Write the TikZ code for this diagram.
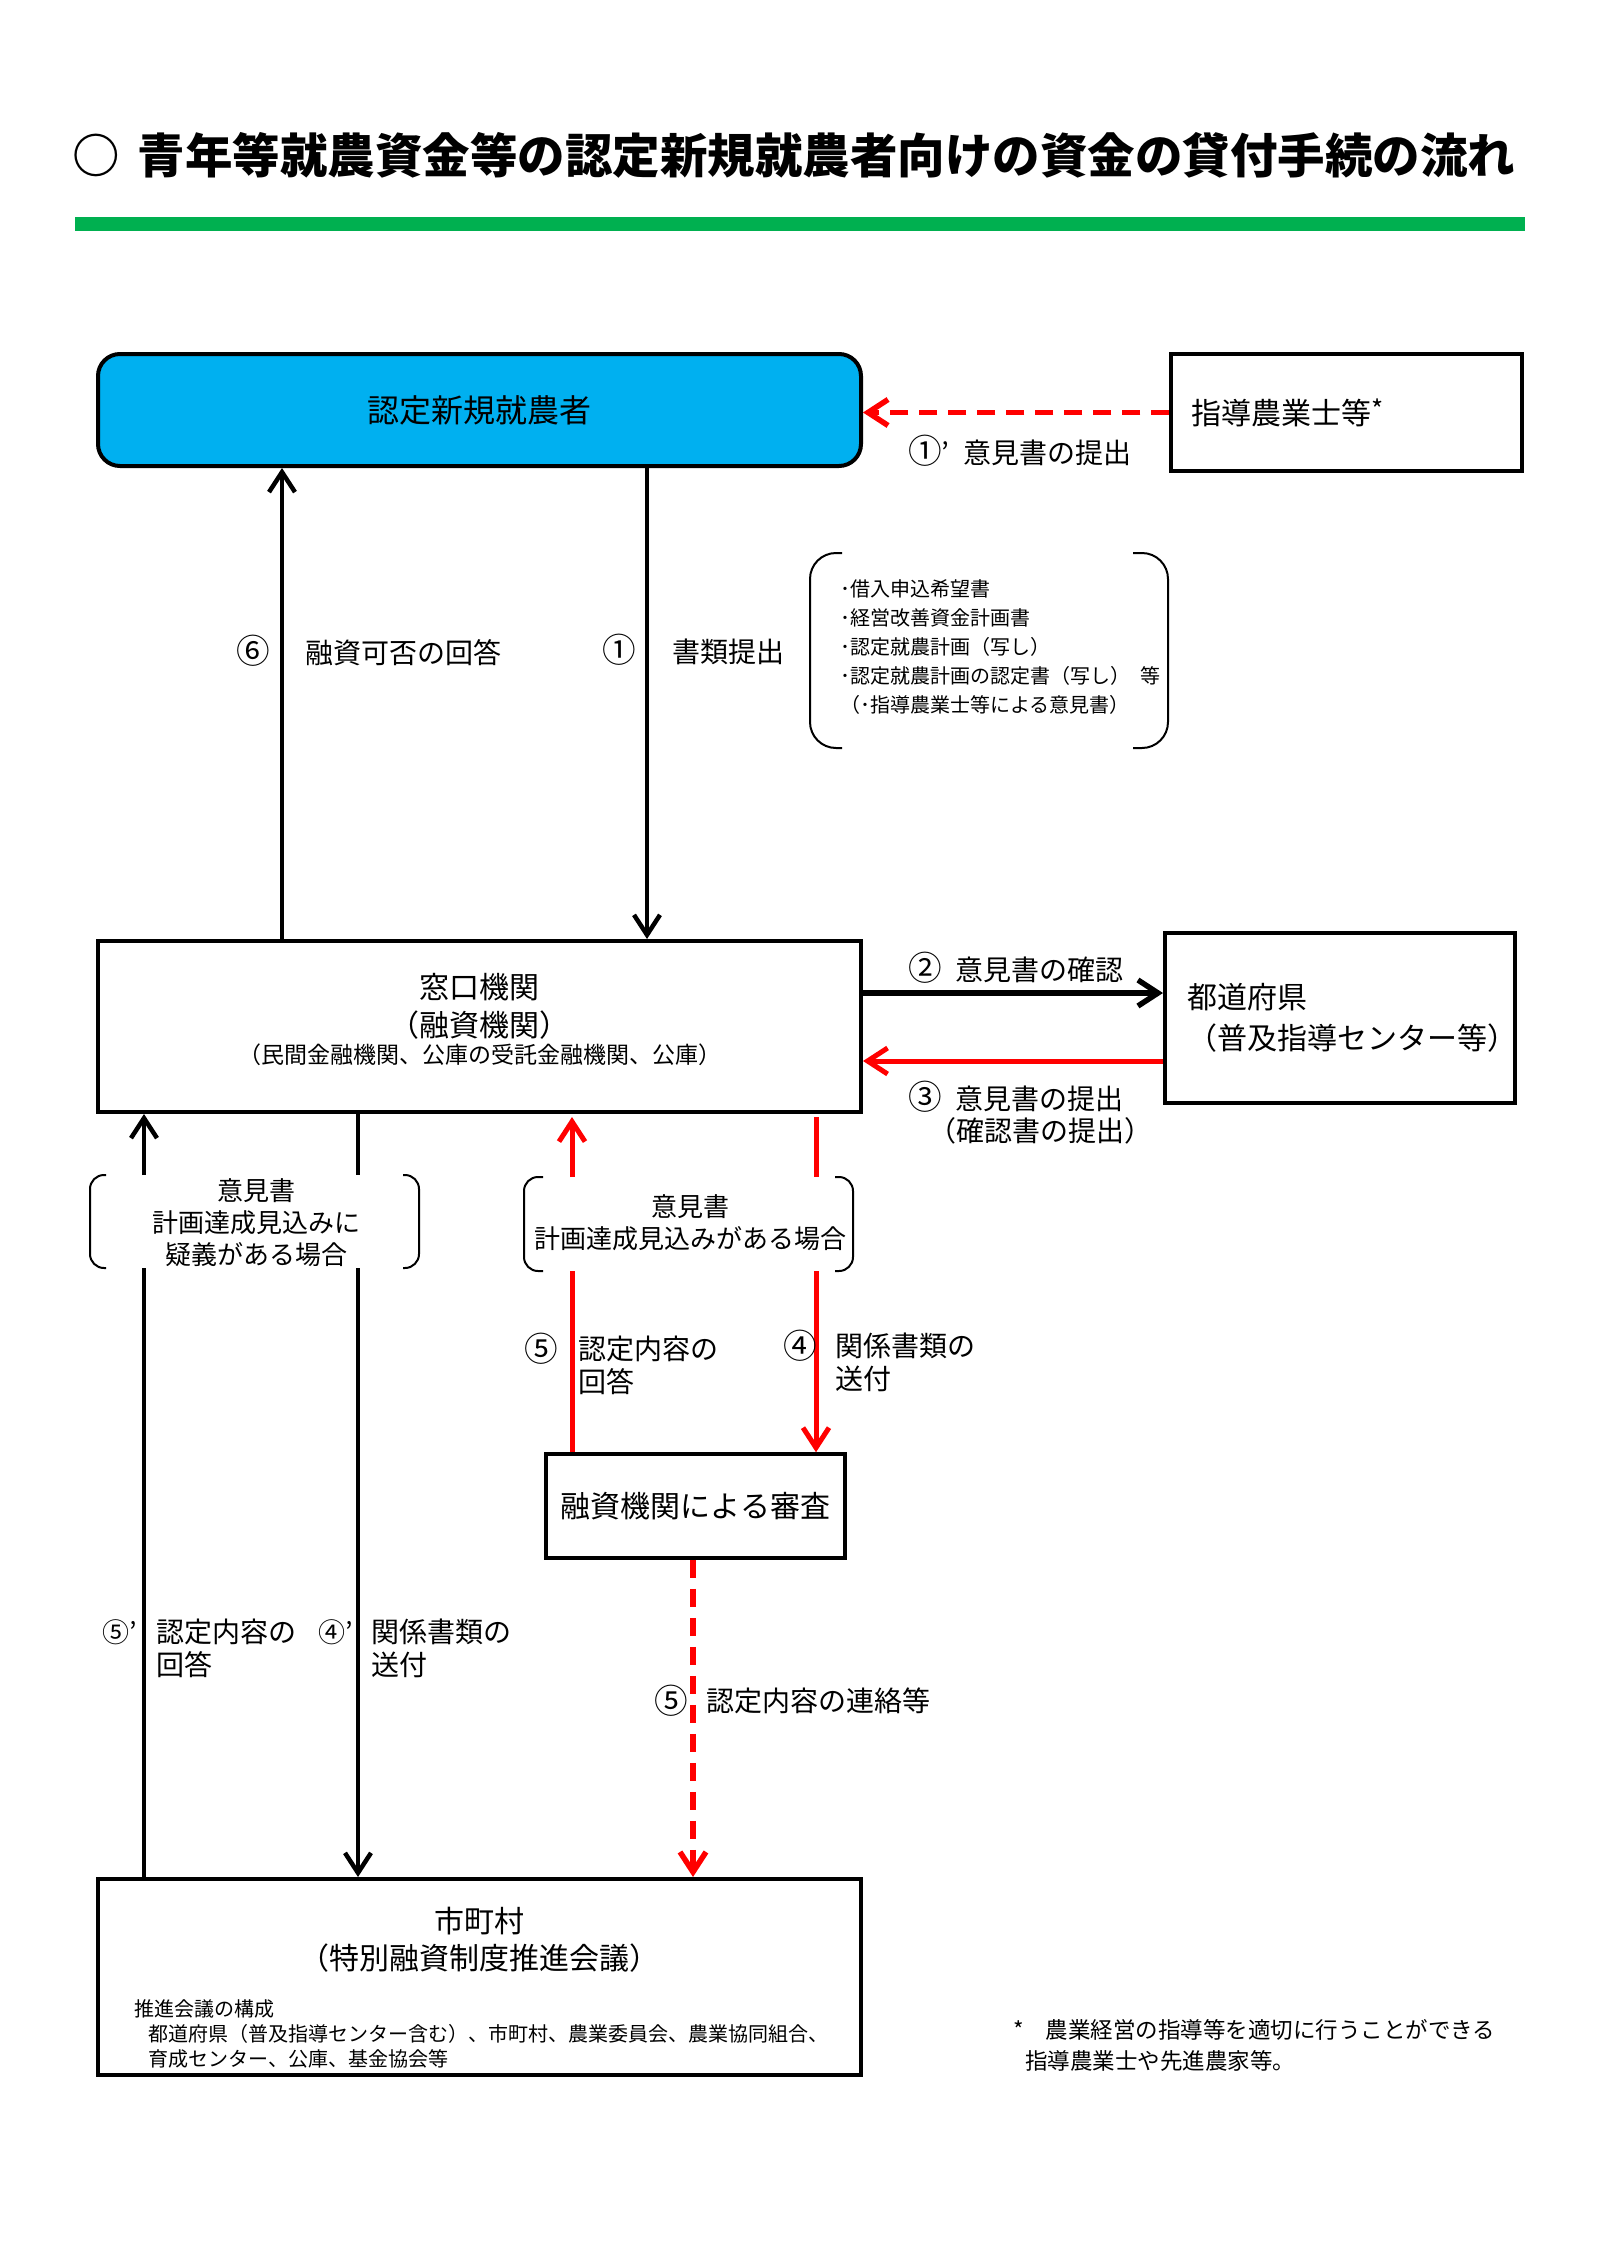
\documentclass[tikz,border=0pt]{standalone}
\usepackage{fontspec}
\usepackage{graphicx}
\setmainfont{Noto Sans CJK JP}
\usetikzlibrary{arrows.meta}
\definecolor{nblue}{RGB}{0,176,240}
\definecolor{ngreen}{RGB}{0,176,80}
\definecolor{nred}{RGB}{255,0,0}
\newcommand{\fsz}[2]{\fontsize{#1pt}{#2pt}\selectfont}
\newcommand{\cn}[1]{\scalebox{1.2}{#1}}
\begin{document}
\begin{tikzpicture}[x=1pt,y=-1pt,
 box/.style={draw, line width=4pt, inner sep=0pt, align=center, font=\fsz{30}{38}},
 tipb/.style={-{Straight Barb[length=20pt,width=26pt]}},
 blk/.style={draw=black, line width=4.5pt},
 redl/.style={draw=nred, line width=5pt},
 reddash/.style={draw=nred, line width=5.5pt, dash pattern=on 18pt off 11pt},
 lbl/.style={anchor=west, inner sep=0pt, align=left, font=\fsz{28}{33}},
 num/.style={inner sep=0pt, font=\fsz{28}{33}},
 brk/.style={draw=black, line width=2pt, rounded corners=14pt},
 txt/.style={inner sep=0pt, align=center, font=\fsz{26}{32}}
]
\useasboundingbox (0,0) rectangle (1600,2264);

% title
\node[anchor=west, inner sep=0pt, font=\fsz{47.5}{50}\bfseries] (title) at (72,155) {○\hspace{18pt}青年等就農資金等の認定新規就農者向けの資金の貸付手続の流れ};
\fill[ngreen] (75,217) rectangle (1525,231);

% boxes
\node[box, fill=nblue, rounded corners=22pt, minimum width=763pt, minimum height=112pt, font=\fsz{32}{38}] (nintei) at (479.5,410) {認定新規就農者};
\node[box, line width=3.5pt, minimum height=117pt, inner xsep=20pt, text width=311pt, align=left] (shidou) at (1346.5,412.5) {指導農業士等\raisebox{5pt}{\fsz{26}{26}*}};
\node[box, minimum width=763pt, minimum height=171pt, text depth=17pt] (madoguchi) at (479.5,1026.5) {窓口機関\\（融資機関）\\[-11pt]{\fsz{23}{26}（民間金融機関、公庫の受託金融機関、公庫）}};
\node[box, minimum height=170pt, inner xsep=22pt, text width=306pt, align=left] (todofuken) at (1340,1018) {都道府県\\[3pt]{\fsz{30}{30}（普及指導センター等）}};
\node[box, line width=3.5pt, minimum width=299pt, minimum height=104pt] (shinsa) at (695.5,1506) {融資機関による審査};
\node[box, minimum width=763pt, minimum height=196pt] (shichoson) at (479.5,1977) {};
\node[txt, font=\fsz{30}{37}] (shichosonname) at (479.5,1940) {市町村\\（特別融資制度推進会議）};
\node[anchor=west, inner sep=0pt, align=left, font=\fsz{20}{25}] (kosei) at (134,2034) {推進会議の構成\\\hspace{14pt}都道府県（普及指導センター含む）、市町村、農業委員会、農業協同組合、\\\hspace{14pt}育成センター、公庫、基金協会等};

% helper coordinates
\coordinate (xa) at (282,0);
\coordinate (xb) at (647,0);
\coordinate (xc) at (144,0);
\coordinate (xd) at (358,0);
\coordinate (xe) at (572,0);
\coordinate (xf) at (816,0);
\coordinate (xg) at (693,0);
\coordinate (ya) at (0,993);
\coordinate (yb) at (0,1061);

% connectors
\draw[reddash, tipb] (shidou.west) -- (shidou.west -| nintei.east);
\draw[blk, tipb] (madoguchi.north -| xa) -- (nintei.south -| xa);
\draw[blk, tipb] (nintei.south -| xb) -- (madoguchi.north -| xb);
\draw[draw=black, line width=5.5pt, tipb] (madoguchi.east |- ya) -- (todofuken.west |- ya);
\draw[redl, tipb] (todofuken.west |- yb) -- (madoguchi.east |- yb);

\coordinate (c1t) at (144,1175); \coordinate (c1b) at (144,1268);
\draw[blk] (shichoson.north -| xc) -- (c1b);
\draw[blk, tipb] (c1t) -- (madoguchi.south -| xc);
\coordinate (d1t) at (358,1175); \coordinate (d1b) at (358,1268);
\draw[blk] (madoguchi.south -| xd) -- (d1t);
\draw[blk, tipb] (d1b) -- (shichoson.north -| xd);

\coordinate (e0) at (572,1117); \coordinate (e1t) at (572,1177); \coordinate (e1b) at (572,1271);
\draw[redl] (shinsa.north -| xe) -- (e1b);
\draw[redl, tipb] (e1t) -- (e0);
\coordinate (f0) at (816,1117); \coordinate (f1t) at (816,1177); \coordinate (f1b) at (816,1271);
\draw[redl] (f0) -- (f1t);
\draw[redl, tipb] (f1b) -- (shinsa.north -| xf);
\draw[reddash, tipb] (shinsa.south -| xg) -- (shichoson.north -| xg);

% labels
\node[lbl] (l1p) at (908,451) {\cn{①}’\hspace{14pt}意見書の提出};
\node[lbl] (l6) at (236,651) {\cn{⑥}\hspace{36pt}融資可否の回答};
\node[lbl] (l1) at (602,650) {\cn{①}\hspace{37pt}書類提出};
\node[anchor=west, inner sep=0pt, align=left, font=\fsz{20}{29}] (docs) at (840,647) {･借入申込希望書\\･経営改善資金計画書\\･認定就農計画（写し）\\･認定就農計画の認定書（写し）\hspace{10pt}等\\（･指導農業士等による意見書）};
\draw[brk, rounded corners=26pt] (842,553) -- (810,553) -- (810,748) -- (842,748);
\draw[brk, rounded corners=26pt] (1133,553) -- (1168,553) -- (1168,748) -- (1133,748);

\node[lbl] (l2) at (908,968) {\cn{②}\hspace{14pt}意見書の確認};
\node[lbl] (l3) at (908,1097) {\cn{③}\hspace{14pt}意見書の提出};
\node[lbl] (l3b) at (928,1131) {（確認書の提出）};

\node[txt] (op1) at (256,1223) {意見書\\計画達成見込みに\\疑義がある場合};
\node[txt] (op2) at (690,1223) {意見書\\計画達成見込みがある場合};
\draw[brk] (106,1175) -- (90,1175) -- (90,1268) -- (106,1268);
\draw[brk] (403,1175) -- (419,1175) -- (419,1268) -- (403,1268);
\draw[brk] (543,1177) -- (524,1177) -- (524,1271) -- (543,1271);
\draw[brk] (835,1177) -- (853,1177) -- (853,1271) -- (835,1271);

\node[num] (n5a) at (541,1349) {\cn{⑤}};
\node[lbl] (l5a) at (578,1365) {認定内容の\\回答};
\node[num] (n4a) at (800,1346) {\cn{④}};
\node[lbl] (l4a) at (835,1362) {関係書類の\\送付};
\node[lbl, font=\fsz{27}{33}] (n5b) at (102,1632) {⑤’};
\node[lbl] (l5b) at (156,1648) {認定内容の\\回答};
\node[lbl, font=\fsz{27}{33}] (n4b) at (318,1632) {④’};
\node[lbl] (l4b) at (371,1648) {関係書類の\\送付};
\node[num] (n5c) at (671,1701) {\cn{⑤}};
\node[lbl] (l5c) at (706,1701) {認定内容の連絡等};

\node[anchor=west, inner sep=0pt, align=left, font=\fsz{22.5}{31}] (note) at (1013,2045) {*\hspace{22pt}農業経営の指導等を適切に行うことができる\\\hspace{12pt}指導農業士や先進農家等。};
\end{tikzpicture}
\end{document}
